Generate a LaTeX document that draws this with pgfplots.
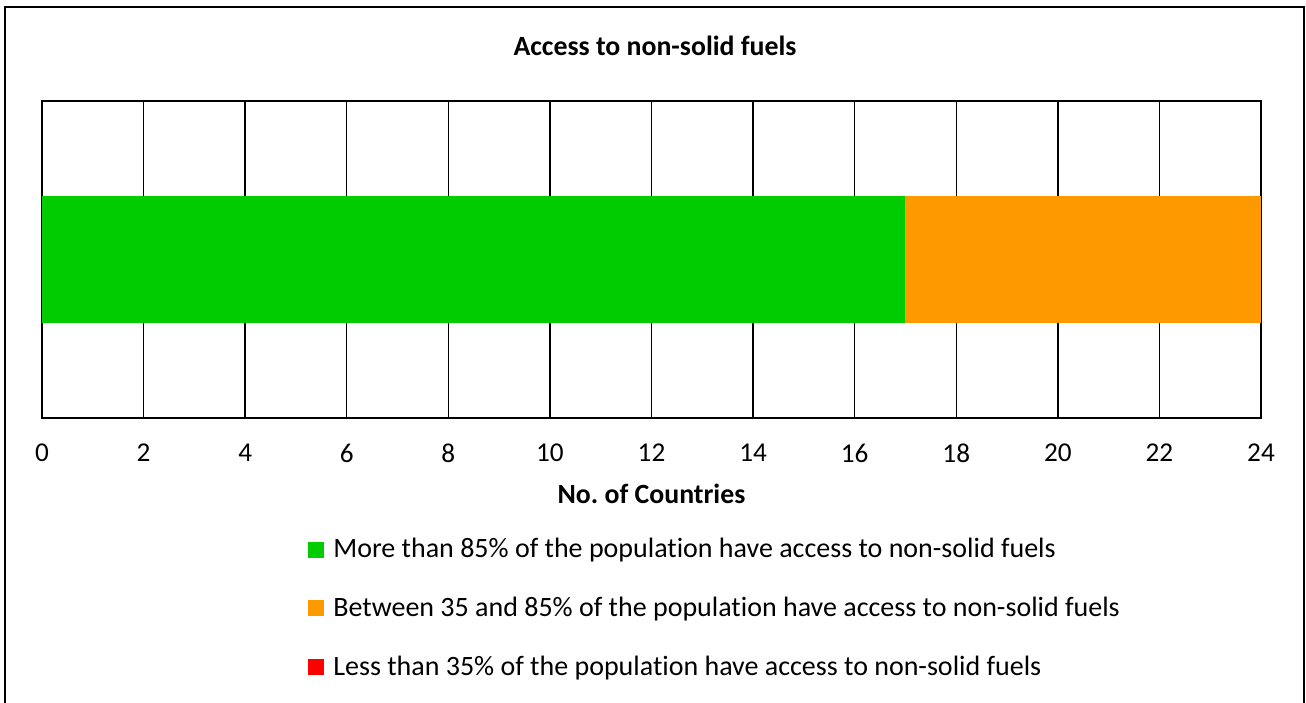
\documentclass[border=0pt]{standalone}
\usepackage{pgfplots}
\pgfplotsset{compat=1.18}
\usepackage{fontspec}
\setmainfont{Carlito}[Ligatures={NoCommon}]
\frenchspacing
\definecolor{cgreen}{HTML}{00CC00}
\definecolor{corange}{HTML}{FF9900}
\definecolor{cred}{HTML}{FF0000}
\begin{document}
\begin{tikzpicture}
\useasboundingbox (0,0) rectangle (653pt,-351pt);
\draw[line width=1pt] (2.5pt,-360pt) -- (2.5pt,-3.5pt) -- (652pt,-3.5pt) -- (652pt,-360pt);
\node[font=\fontsize{13.9}{16}\selectfont\bfseries] at (327.5pt,-23pt) {Access to non-solid fuels};
\begin{axis}[
  at={(21pt,-209pt)}, anchor=south west,
  scale only axis, width=609.5pt, height=158.5pt,
  xmin=0, xmax=24, ymin=-1.25, ymax=1.25,
  xtick={0,2,...,24}, ytick=\empty,
  major tick length=0pt,
  xmajorgrids, grid style={black, line width=0.7pt},
  axis line style={black, line width=0.8pt},
  tick label style={font=\fontsize{13.6}{15}\selectfont},
  /pgf/number format/assume math mode=true,
  xticklabel style={yshift=-9.5pt},
  xlabel={No. of Countries},
  xlabel style={font=\fontsize{13.9}{16}\selectfont\bfseries, yshift=-3.5pt},
  xbar stacked, bar width=63.5pt,
  legend style={at={(0.2182,-0.366)}, anchor=north west, draw=none,
    font=\fontsize{14}{16}\selectfont, row sep=14.2pt, inner sep=0pt},
  legend cell align=left,
  legend image code/.code={\fill[#1] (0pt,-4pt) rectangle (8pt,4pt); \path (10.5pt,0pt);},
]
\addplot[fill=cgreen, draw=none] coordinates {(17,0)};
\addplot[fill=corange, draw=none] coordinates {(7,0)};
\addplot[fill=cred, draw=none] coordinates {(0,0)};
\legend{More than 85\% of the population have access to non-solid fuels,
Between 35 and 85\% of the population have access to non-solid fuels,
Less than 35\% of the population have access to non-solid fuels}
\end{axis}
\end{tikzpicture}
\end{document}
